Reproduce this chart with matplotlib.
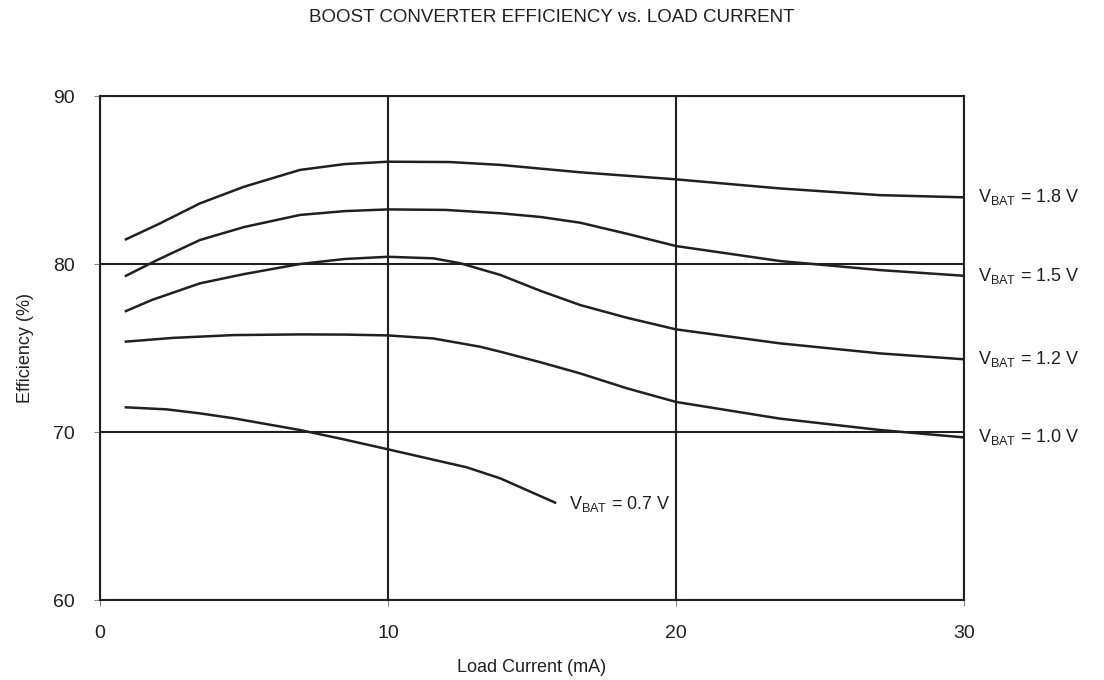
import numpy as np
import matplotlib
matplotlib.use("Agg")
import matplotlib.pyplot as plt

plt.rcParams['font.family'] = ['Liberation Sans', 'DejaVu Sans']
plt.rcParams['mathtext.fontset'] = 'custom'
plt.rcParams['mathtext.rm'] = 'Liberation Sans'
plt.rcParams['mathtext.it'] = 'Liberation Sans'

INK = '#231f20'

# Efficiency curves (load current in mA, efficiency in %)
i_18 = [0.9, 2.0, 3.47, 5.0, 6.94, 8.5, 10.0, 12.15, 13.9, 16.67, 20.0, 23.6, 27.08, 30.0]
eff_18 = [81.47, 82.35, 83.61, 84.6, 85.6, 85.95, 86.09, 86.07, 85.9, 85.46, 85.04, 84.5, 84.1, 83.97]

i_15 = [0.9, 2.0, 3.47, 5.0, 6.94, 8.5, 10.0, 12.0, 13.9, 15.3, 16.67, 18.3, 20.0, 23.6, 27.08, 30.0]
eff_15 = [79.3, 80.25, 81.43, 82.2, 82.92, 83.15, 83.25, 83.22, 83.02, 82.8, 82.46, 81.8, 81.07, 80.18, 79.64, 79.3]

i_12 = [0.9, 1.8, 3.47, 5.0, 6.94, 8.5, 10.0, 11.57, 12.5, 13.9, 15.3, 16.67, 18.3, 20.0, 23.6, 27.08, 30.0]
eff_12 = [77.2, 77.86, 78.85, 79.4, 80.0, 80.3, 80.43, 80.34, 80.05, 79.35, 78.4, 77.56, 76.8, 76.11, 75.28, 74.68, 74.33]

i_10 = [0.9, 2.5, 4.63, 6.94, 8.5, 10.0, 11.57, 13.19, 13.9, 15.3, 16.67, 18.3, 20.0, 23.6, 27.08, 30.0]
eff_10 = [75.38, 75.6, 75.77, 75.81, 75.8, 75.75, 75.57, 75.08, 74.78, 74.15, 73.49, 72.6, 71.79, 70.8, 70.12, 69.68]

i_07 = [0.9, 2.31, 3.47, 4.63, 6.94, 8.5, 10.0, 12.73, 13.9, 15.8]
eff_07 = [71.47, 71.35, 71.11, 70.82, 70.12, 69.55, 68.97, 67.9, 67.24, 65.8]

curves = [(i_18, eff_18, '1.8'), (i_15, eff_15, '1.5'), (i_12, eff_12, '1.2'),
          (i_10, eff_10, '1.0'), (i_07, eff_07, '0.7')]

xticks = [0, 10, 20, 30]
yticks = [60, 70, 80, 90]

fig = plt.figure(figsize=(11.04, 6.8), dpi=100)
ax = fig.add_axes([0.0906, 0.1176, 0.7826, 0.7412])

for x, y, v in curves:
    ax.plot(x, y, color=INK, lw=1.8, solid_joinstyle='round', zorder=3)

ax.set_xlim(0, 30)
ax.set_ylim(60, 90)
ax.set_xticks(xticks)
ax.set_yticks(yticks)
ax.grid(True, color=INK, lw=1.5)
for s in ax.spines.values():
    s.set_color(INK)
    s.set_linewidth(1.5)
ax.tick_params(direction='out', length=4, width=0.8, color='#888888',
               labelsize=14, labelcolor=INK, pad=14)

# labels at the right end of each curve
for x, y, v in curves[:4]:
    ax.annotate(r'$\mathrm{V_{BAT}}$' + f' = {v} V', xy=(x[-1], y[-1]),
                xytext=(10, 0), textcoords='offset points',
                ha='left', va='center', fontsize=13, color=INK,
                annotation_clip=False)
ax.annotate(r'$\mathrm{V_{BAT}}$' + ' = 0.7 V', xy=(i_07[-1], eff_07[-1]),
            xytext=(10, -1), textcoords='offset points',
            ha='left', va='center', fontsize=13, color=INK)

ax.set_xlabel('Load Current (mA)', fontsize=13, color=INK, labelpad=12)
ax.set_ylabel('Efficiency (%)', fontsize=13, color=INK, labelpad=14)
fig.text(0.5, 1 - 18 / 680, 'BOOST CONVERTER EFFICIENCY vs. LOAD CURRENT',
         ha='center', va='center', fontsize=13.5, color=INK)

fig.savefig('out.png', dpi=100)
